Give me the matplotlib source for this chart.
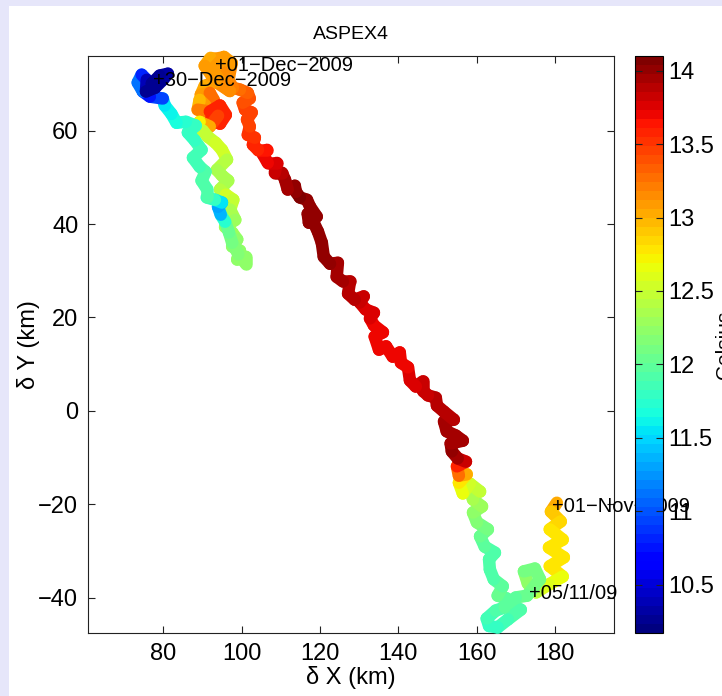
import numpy as np
import matplotlib
matplotlib.use('Agg')
import matplotlib.pyplot as plt
from matplotlib.collections import LineCollection
from matplotlib.colors import Normalize
from matplotlib.patches import Rectangle
from matplotlib.ticker import FuncFormatter
from matplotlib import font_manager

# ---------------- data ----------------
x_km = [180.5, 179.0, 181.5, 178.7, 182.0, 178.5, 182.3, 178.7, 182.0, 178.5, 175.2,
        173.1, 172.1, 174.9, 176.2, 172.9, 170.0, 169.0, 171.3, 168.0, 165.4, 163.2, 162.6,
        164.9, 167.2, 167.7, 165.4, 166.7, 164.4, 163.4, 163.2, 164.7, 162.1, 160.9, 162.9,
        160.1, 159.1, 161.4, 159.1, 158.3, 160.9, 158.3, 156.5, 155.5, 157.5, 155.5, 155.0,
        157.3, 155.2, 153.7, 153.4, 156.5, 154.7, 152.4, 151.7, 154.2, 151.7, 149.9, 149.6,
        147.6, 146.3, 146.3, 144.5, 143.0, 142.5, 140.7, 140.4, 138.6, 136.9, 135.1, 134.0,
        136.1, 133.8, 132.8, 133.8, 131.7, 130.2, 131.2, 128.9, 127.2, 127.7, 125.9, 124.3,
        124.6, 122.6, 121.0, 120.5, 119.5, 118.2, 117.2, 116.9, 119.2, 117.5, 116.7, 114.9,
        113.9, 113.6, 111.8, 111.1, 110.3, 108.5, 109.0, 106.7, 105.5, 106.5, 104.2, 102.9,
        103.4, 101.6, 102.1, 101.4, 102.6, 100.9, 100.3, 102.1, 101.6, 99.6, 97.8,
        96.6, 96.0, 94.5, 92.1, 90.6, 92.4, 94.5, 94.7, 96.8, 97.5, 95.5, 92.5, 95.5, 97.0,
        93.4, 90.6, 89.6, 91.9, 92.9, 90.8,
        89.3, 88.8, 91.9, 94.5, 96.0, 94.5, 92.2, 94.0, 91.9, 89.3, 88.3, 90.1,
        91.4, 93.4, 95.0, 96.3, 93.7, 95.0, 96.6, 94.5, 96.0, 97.9, 97.1, 98.4, 95.8, 97.6,
        98.9, 97.6, 99.6, 98.9, 101.1, 101.1,
        99.2, 97.6, 96.8, 95.8, 94.7, 94.0, 95.0, 93.2, 91.1, 91.1, 89.8, 90.8, 89.3, 87.6,
        89.8, 88.1, 86.3, 88.3, 85.8, 83.4, 82.1, 80.4,
        79.9, 76.6, 74.8, 73.5, 74.5, 75.8, 75.6, 77.9, 79.9, 81.2, 79.1, 77.1, 78.9]

y_km = [-19.7, -21.6, -23.7, -25.4, -27.6, -29.3, -31.4, -33.3, -35.5, -37.2, -38.9,
        -37.0, -34.4, -33.8, -36.1, -39.6, -40.0, -41.7, -42.6, -44.7, -46.4, -46.1, -44.5,
        -42.8, -42.1, -40.2, -39.6, -37.6, -36.1, -34.0, -31.8, -30.4, -29.1, -26.9, -25.4,
        -23.9, -21.8, -20.5, -19.0, -16.9, -17.3, -15.6, -17.7, -15.4, -13.6, -13.9, -11.9,
        -10.9, -10.2, -8.7, -7.0, -6.4, -5.3, -4.4, -2.3, -1.9, -0.2, 1.1, 2.8,
        3.3, 4.3, 6.3, 5.2, 6.5, 9.3, 10.3, 12.5, 11.6, 13.8, 13.1, 15.9,
        16.8, 18.3, 19.8, 21.0, 21.7, 23.2, 24.5, 23.8, 25.1, 27.7, 27.7, 28.7,
        31.7, 31.5, 33.0, 36.0, 38.4, 40.7, 40.3, 42.2, 41.6, 43.7, 45.2, 45.7,
        46.9, 48.2, 47.4, 49.5, 51.0, 51.0, 53.1, 53.1, 54.9, 55.9, 55.9, 57.0,
        58.5, 59.1, 60.9, 62.4, 63.9, 64.5, 66.0, 66.9, 68.1, 68.8, 69.2,
        70.9, 73.5, 75.6, 75.6, 73.9, 71.8, 73.1, 73.7, 71.5, 74.5, 75.8, 73.0, 69.5, 68.5,
        70.5, 69.6, 67.7, 68.1, 66.6, 65.4,
        66.6, 64.5, 64.1, 65.4, 63.4, 61.5, 62.4, 63.2, 60.9, 61.9, 60.2, 60.0,
        58.7, 57.4, 55.9, 53.8, 51.6, 50.4, 49.3, 47.4, 46.3, 45.2, 43.1, 40.9, 39.4, 38.2,
        36.7, 35.2, 34.3, 32.4, 33.0, 31.5,
        33.5, 36.0, 38.2, 40.5, 42.0, 43.7, 44.6, 45.2, 45.7, 47.6, 49.3, 51.2, 52.3, 54.2,
        55.9, 57.9, 59.6, 61.1, 61.9, 61.7, 63.6, 65.4,
        66.9, 67.3, 68.4, 70.3, 72.0, 70.9, 68.4, 69.2, 70.9, 72.2, 71.8, 70.1, 70.7]

temp_c = [13.05, 12.95, 12.8, 12.85, 12.75, 12.85, 12.7, 12.8, 12.7, 12.65, 12.55,
          12.25, 12.15, 12.1, 12.05, 12.1, 12.0, 12.0, 11.95, 11.9, 11.8, 11.8, 11.85,
          11.9, 11.95, 12.0, 12.0, 12.05, 11.95, 11.9, 11.9, 11.9, 11.95, 12.0, 12.05,
          12.1, 12.2, 12.25, 12.3, 12.35, 12.4, 12.5, 12.6, 12.7, 12.85, 13.2, 13.4,
          13.7, 13.9, 14.0, 14.0, 13.95, 13.95, 14.0, 13.95, 13.9, 13.9, 13.9, 13.9,
          13.85, 13.85, 13.8, 13.8, 13.75, 13.72, 13.7, 13.68, 13.68, 13.68, 13.68, 13.68,
          13.7, 13.7, 13.72, 13.75, 13.78, 13.8, 13.82, 13.85, 13.88, 13.9, 13.92, 13.95,
          13.95, 14.0, 14.0, 14.0, 14.0, 14.0, 14.0, 14.0, 14.0, 14.0, 14.02, 14.05,
          14.05, 14.02, 14.0, 13.95, 13.9, 13.85, 13.8, 13.75, 13.7, 13.65, 13.6, 13.55,
          13.55, 13.5, 13.5, 13.45, 13.45, 13.45, 13.4, 13.4, 13.35, 13.3, 13.25,
          13.2, 13.15, 13.1, 13.05, 13.05, 13.1, 13.1, 13.1, 13.15, 13.1, 13.1, 13.05, 13.15, 13.2,
          13.15, 13.05, 12.95, 13.2, 13.3, 13.2,
          13.0, 12.9, 13.5, 13.6, 13.6, 13.6, 13.55, 13.6, 13.35, 12.75, 12.65, 12.55,
          12.45, 12.5, 12.6, 12.45, 12.4, 12.35, 12.4, 12.35, 12.45, 12.6, 12.4, 12.3, 12.25, 12.3,
          12.25, 12.25, 12.25, 12.2, 12.25, 12.25,
          12.2, 12.15, 12.1, 12.0, 11.45, 11.3, 11.35, 11.7, 11.9, 11.9, 11.95, 11.95, 11.9, 11.85,
          11.9, 11.85, 11.8, 11.8, 11.75, 11.7, 11.65, 11.6,
          11.45, 10.4, 11.1, 11.15, 11.1, 10.5, 10.25, 10.25, 10.25, 10.3, 10.3, 10.25, 10.3]

label_text = ['+01\u2212Nov\u22122009', '+05/11/09', '+01\u2212Dec\u22122009', '+30\u2212Dec\u22122009']
label_x = [179.2, 173.3, 93.2, 77.4]
label_y = [-20.4, -39.2, 73.9, 70.7]

x_ticks = [80, 100, 120, 140, 160, 180]
y_ticks = [-40, -20, 0, 20, 40, 60]
cbar_ticks = [10.5, 11, 11.5, 12, 12.5, 13, 13.5, 14]
t_min, t_max = 10.17, 14.1

title_text = 'ASPEX4'
x_label = '\u03b4 X (km)'
y_label = '\u03b4 Y (km)'
cbar_label = 'Celsius'

# ---------------- fonts ----------------
installed = {f.name for f in font_manager.fontManager.ttflist}
fams = [f for f in ['Liberation Sans Narrow', 'Liberation Sans'] if f in installed]
plt.rcParams['font.family'] = fams + ['DejaVu Sans']

W, H = 722, 696
fig = plt.figure(figsize=(W / 100, H / 100), dpi=100, facecolor='#e6e6fa')
fig.add_artist(Rectangle((9 / W, 0), 1, (H - 6) / H, transform=fig.transFigure,
                         facecolor='white', edgecolor='none', zorder=-10))

ax = fig.add_axes([88 / W, 1 - 633 / H, 526 / W, 577 / H])
cax = fig.add_axes([635 / W, 1 - 633 / H, 28 / W, 577 / H])

cmap = matplotlib.colormaps['jet'].resampled(64)
norm = Normalize(t_min, t_max)

pts = np.column_stack([x_km, y_km])
segs = np.stack([pts[:-1], pts[1:]], axis=1)
t = np.asarray(temp_c)
seg_t = (t[:-1] + t[1:]) / 2
lc = LineCollection(segs, cmap=cmap, norm=norm, linewidths=9,
                    capstyle='round', joinstyle='round')
lc.set_array(seg_t)
lc.set_clip_on(False)
ax.add_collection(lc)

for s, lx, ly in zip(label_text, label_x, label_y):
    ax.text(lx, ly, s, ha='left', va='center', fontsize=14.5, clip_on=False, zorder=5)

ax.set_xlim(60.8, 195.1)
ax.set_ylim(-47.6, 76.0)
ax.set_xticks(x_ticks)
ax.set_yticks(y_ticks)
ax.tick_params(direction='in', top=True, right=True, length=5, width=0.8,
               labelsize=17, pad=7, color='#222222')
for sp in ax.spines.values():
    sp.set_linewidth(0.8)
    sp.set_color('#222222')
    sp.set_zorder(0.5)

ax.set_title(title_text, fontsize=14, pad=12)
ax.set_xlabel(x_label, fontsize=17)
ax.xaxis.set_label_coords(0.5, -0.058)
ax.set_ylabel(y_label, fontsize=17)
ax.yaxis.set_label_coords(-0.092, 0.5)

cb = fig.colorbar(lc, cax=cax, ticks=cbar_ticks)
cb.outline.set_linewidth(0.8)
cb.formatter = FuncFormatter(lambda v, p: '%g' % v)
cb.update_ticks()
cax.tick_params(direction='in', left=True, right=True, labelleft=False, labelright=True,
                length=5, width=0.8, labelsize=17, pad=4, color='#222222')

fig.text(715 / W, 1 - 345 / H, cbar_label, rotation=90, ha='left', va='center', fontsize=15)

fig.savefig('out.png', dpi=100, facecolor=fig.get_facecolor())
